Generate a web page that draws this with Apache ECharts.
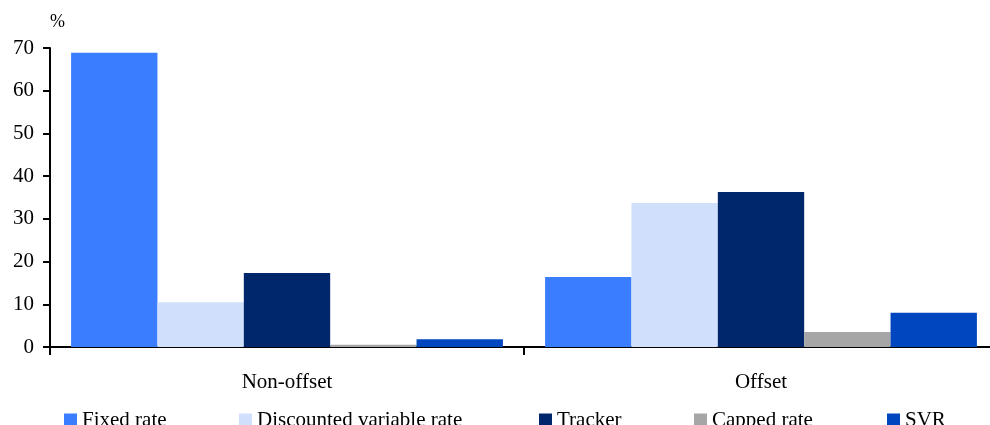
<!DOCTYPE html>
<html>
<head>
<meta charset="utf-8">
<script src="https://cdn.jsdelivr.net/npm/echarts@6/dist/echarts.min.js"></script>
<style>
  html, body { margin: 0; padding: 0; background: #fff; overflow: hidden; }
  #chart { width: 1000px; height: 425px; }
</style>
</head>
<body>
<div id="chart"></div>
<script>
// Mortgage types by product category, % share
const categories = ['Non-offset', 'Offset'];
const seriesNames = ['Fixed rate', 'Discounted variable rate', 'Tracker', 'Capped rate', 'SVR'];
const fixedRate = [68.9, 16.4];
const discountedVariable = [10.5, 33.7];
const tracker = [17.3, 36.3];
const cappedRate = [0.5, 3.5];
const svr = [1.8, 8.0];
const yTicks = [0, 10, 20, 30, 40, 50, 60, 70];

const seriesValues = [fixedRate, discountedVariable, tracker, cappedRate, svr];
const colors = ['#3a7dff', '#d0e0fc', '#00276b', '#a6a6a6', '#0047bf'];
const legendLeft = [64, 239, 539, 694, 887];
const font = '"Liberation Serif", "Times New Roman", serif';

const chart = echarts.init(document.getElementById('chart'), null, { renderer: 'canvas' });

chart.setOption({
  animation: false,
  color: colors,
  grid: { left: 50, top: 48, width: 948, height: 299, containLabel: false },
  legend: seriesNames.map((name, i) => ({
    data: [name],
    left: legendLeft[i],
    top: 410,
    itemWidth: 13,
    itemHeight: 14,
    itemGap: 0,
    icon: 'rect',
    padding: 0,
    selectedMode: false,
    textStyle: { fontFamily: font, fontSize: 21, color: '#000', padding: [0, 0, 0, 0] }
  })),
  xAxis: {
    type: 'category',
    data: categories,
    axisLine: { lineStyle: { color: '#000', width: 2 } },
    axisTick: { show: true, length: 8, lineStyle: { color: '#000', width: 2 } },
    axisLabel: { fontFamily: font, fontSize: 21, color: '#000', margin: 25 }
  },
  yAxis: {
    type: 'value',
    min: yTicks[0],
    max: yTicks[yTicks.length - 1],
    interval: 10,
    name: '%',
    nameLocation: 'end',
    nameGap: 17,
    nameTextStyle: { fontFamily: font, fontSize: 18, color: '#000', align: 'left' },
    axisLine: { show: true, lineStyle: { color: '#000', width: 2 } },
    axisTick: { show: true, length: 7, lineStyle: { color: '#000', width: 2 } },
    splitLine: { show: false },
    axisLabel: { fontFamily: font, fontSize: 21, color: '#000', margin: 16 }
  },
  series: seriesNames.map((name, i) => ({
    name: name,
    type: 'bar',
    data: seriesValues[i],
    barGap: 0,
    barCategoryGap: '8.9%',
    itemStyle: { color: colors[i] }
  }))
});
</script>
</body>
</html>
